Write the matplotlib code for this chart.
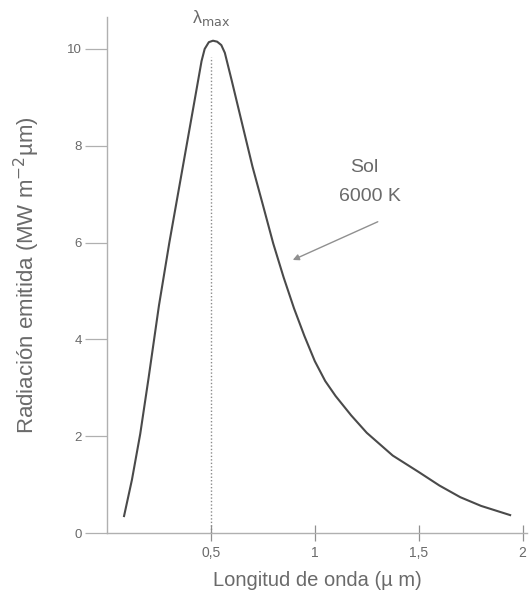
import matplotlib
matplotlib.use("Agg")
import matplotlib.pyplot as plt

plt.rcParams['font.family'] = ['Liberation Sans', 'DejaVu Sans']

# Curva de emision del Sol
longitud = [0.082, 0.12, 0.16, 0.20, 0.25, 0.30, 0.36, 0.42, 0.455,
            0.47, 0.49, 0.51, 0.53, 0.55, 0.567, 0.60, 0.70, 0.75,
            0.80, 0.85, 0.90, 0.95, 1.0, 1.05, 1.1, 1.175, 1.25, 1.375,
            1.5, 1.6, 1.7, 1.8, 1.94]
radiacion = [0.35, 1.1, 2.05, 3.2, 4.7, 6.0, 7.45, 8.9, 9.75,
             10.0, 10.14, 10.17, 10.15, 10.08, 9.92, 9.35, 7.57, 6.78,
             5.98, 5.28, 4.64, 4.07, 3.55, 3.14, 2.83, 2.43, 2.07, 1.6,
             1.26, 0.98, 0.74, 0.56, 0.37]

lambda_max = 0.5
y_ticks = [0, 2, 4, 6, 8, 10]
x_ticks = [0.5, 1, 1.5, 2]
x_tick_labels = ["0,5", "1", "1,5", "2"]

GRIS_TEXTO = "#6a6a6a"
GRIS_CURVA = "#4a4a4a"
GRIS_EJE = "#b0b0b0"


def main():
    fig = plt.figure(figsize=(5.3, 5.9), dpi=100)
    ax = fig.add_axes([0.2019, 0.0966, 0.792, 0.8746])

    ax.plot(longitud, radiacion, color=GRIS_CURVA, lw=1.5,
            solid_joinstyle='round')
    ax.plot([lambda_max, lambda_max], [0, 9.83], color="#8a8a8a", lw=1.0,
            ls=(0, (1, 1.5)))

    ax.text(lambda_max, 10.64, r"λ$_{\mathrm{max}}$", ha="center",
            va="center", fontsize=13, color=GRIS_TEXTO)
    ax.text(1.24, 7.56, "Sol", ha="center", va="center", fontsize=14,
            color=GRIS_TEXTO)
    ax.text(1.265, 6.96, "6000 K", ha="center", va="center", fontsize=14,
            color=GRIS_TEXTO)
    ax.annotate("", xy=(0.894, 5.64), xytext=(1.303, 6.43),
                arrowprops=dict(arrowstyle="-|>", color="#909090", lw=1.0,
                                mutation_scale=9, shrinkA=0, shrinkB=0))

    ax.set_xlim(0, 2.02)
    ax.set_ylim(0, 10.66)
    ax.set_xticks(x_ticks)
    ax.set_xticklabels(x_tick_labels)
    ax.set_yticks(y_ticks)

    for side in ["top", "right"]:
        ax.spines[side].set_visible(False)
    for side in ["left", "bottom"]:
        ax.spines[side].set_color(GRIS_EJE)
        ax.spines[side].set_linewidth(1.0)

    ax.tick_params(axis="y", direction="out", length=16, width=0.9,
                   color=GRIS_EJE, labelcolor=GRIS_TEXTO, labelsize=9.5, pad=2)
    ax.tick_params(axis="x", direction="inout", length=12, width=0.9,
                   color="#909090", labelcolor=GRIS_TEXTO, labelsize=10,
                   pad=3)

    ax.set_xlabel("Longitud de onda (µ m)", fontsize=14.5, color=GRIS_TEXTO,
                  labelpad=8)
    ax.set_ylabel("Radiación emitida (MW m$^{-2}$µm)", fontsize=16,
                  color=GRIS_TEXTO, labelpad=18)

    fig.savefig("out.png", dpi=100)


if __name__ == '__main__':
    main()
